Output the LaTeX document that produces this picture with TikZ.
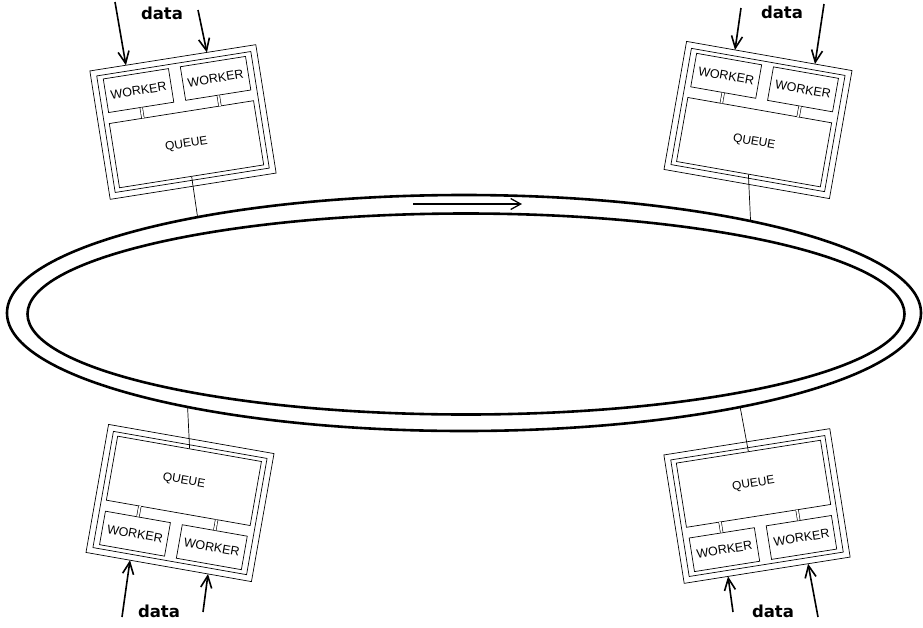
\documentclass[tikz,border=0pt]{standalone}
\usepackage{fontspec}
\setmainfont{Liberation Sans}
\newfontfamily\datafont{DejaVu Sans}
\usetikzlibrary{shapes.geometric,arrows.meta}
\begin{document}
\begin{tikzpicture}[x=1pt,y=-1pt,
 frame/.style={draw,line width=0.7pt,minimum width=168pt,minimum height=130pt,inner sep=0pt,transform shape},
 innerframe/.style={draw,line width=0.7pt,minimum width=156pt,minimum height=118pt,inner sep=0pt,transform shape},
 worker/.style={draw,line width=0.7pt,minimum width=66pt,minimum height=34pt,inner sep=0pt,font=\fontsize{12.5}{14}\selectfont,transform shape},
 queue/.style={draw,line width=0.7pt,minimum width=146pt,minimum height=65pt,inner sep=0pt,font=\fontsize{12}{14}\selectfont,transform shape},
 dlink/.style={double,double distance=2pt,line width=0.6pt},
 qlink/.style={line width=0.7pt},
 datalabel/.style={font=\datafont\bfseries\fontsize{16.5}{18}\selectfont,inner sep=0pt},
 dataarrow/.style={line width=1.6pt,-{Straight Barb[length=12pt,width=11pt]}},
 ringline/.style={draw,ellipse,line width=2.6pt,inner sep=0pt},
]
\useasboundingbox (0,0) rectangle (923,627);

% ring
\node[ringline,minimum width=914pt,minimum height=236pt] (ring) at (464,313) {};
\node[ringline,minimum width=877pt,minimum height=201pt] (ringin) at (466,314) {};
\coordinate (ra1) at (413,204);
\coordinate (ra2) at (522,204);
\draw[line width=1.3pt,-{Straight Barb[length=10pt,width=11pt]}] (ra1) -- (ra2);

% top-left box
\begin{scope}[shift={(183,122)},rotate=9]
 \node[frame] (TLo) at (0,0) {};
 \node[innerframe] (TLi) at (0,0) {};
 \node[worker] (TLw1) at (-39,-38) {WORKER};
 \node[worker] (TLw2) at (39,-38) {WORKER};
 \node[queue] (TLq) at (0,22.5) {QUEUE};
 \coordinate (TLl1) at (-39,-10);
 \coordinate (TLl2) at (39,-10);
 \coordinate (TLa1) at (-47.5,-65);
 \coordinate (TLa2) at (34.5,-65);
\end{scope}
\draw[dlink] (TLw1.south) -- (TLl1);
\draw[dlink] (TLw2.south) -- (TLl2);
\draw[qlink] (TLq.south) -- (ring.160.5);
\node[datalabel] (TLd) at (162,13) {data};
\coordinate (TLs1) at (115,2);
\coordinate (TLs2) at (198,10);
\draw[dataarrow] (TLs1) -- (TLa1);
\draw[dataarrow] (TLs2) -- (TLa2);

% top-right box
\begin{scope}[shift={(758,120)},rotate=-10]
 \node[frame] (TRo) at (0,0) {};
 \node[innerframe] (TRi) at (0,0) {};
 \node[worker] (TRw1) at (-39,-38) {WORKER};
 \node[worker] (TRw2) at (39,-38) {WORKER};
 \node[queue] (TRq) at (0,22.5) {QUEUE};
 \coordinate (TRl1) at (-39,-10);
 \coordinate (TRl2) at (39,-10);
 \coordinate (TRa1) at (-34.8,-65);
 \coordinate (TRa2) at (46.4,-65);
\end{scope}
\draw[dlink] (TRw1.south) -- (TRl1);
\draw[dlink] (TRw2.south) -- (TRl2);
\draw[qlink] (TRq.south) -- (ring.18.5);
\node[datalabel] (TRd) at (782,12) {data};
\coordinate (TRs1) at (741,8);
\coordinate (TRs2) at (824,4);
\draw[dataarrow] (TRs1) -- (TRa1);
\draw[dataarrow] (TRs2) -- (TRa2);

% bottom-left box
\begin{scope}[shift={(180,503)},rotate=-10]
 \node[frame] (BLo) at (0,0) {};
 \node[innerframe] (BLi) at (0,0) {};
 \node[queue] (BLq) at (0,-22.5) {QUEUE};
 \node[worker] (BLw1) at (-39,38) {WORKER};
 \node[worker] (BLw2) at (39,38) {WORKER};
 \coordinate (BLl1) at (-39,10);
 \coordinate (BLl2) at (39,10);
 \coordinate (BLa1) at (-39.3,65);
 \coordinate (BLa2) at (39.9,65);
\end{scope}
\draw[dlink] (BLw1.north) -- (BLl1);
\draw[dlink] (BLw2.north) -- (BLl2);
\draw[qlink] (BLq.north) -- (ring.199.3);
\node[datalabel] (BLd) at (159,611) {data};
\coordinate (BLs1) at (122,617);
\coordinate (BLs2) at (203,612);
\draw[dataarrow] (BLs1) -- (BLa1);
\draw[dataarrow] (BLs2) -- (BLa2);

% bottom-right box
\begin{scope}[shift={(757,506)},rotate=9]
 \node[frame] (BRo) at (0,0) {};
 \node[innerframe] (BRi) at (0,0) {};
 \node[queue] (BRq) at (0,-22.5) {QUEUE};
 \node[worker] (BRw1) at (-39,38) {WORKER};
 \node[worker] (BRw2) at (39,38) {WORKER};
 \coordinate (BRl1) at (-39,10);
 \coordinate (BRl2) at (39,10);
 \coordinate (BRa1) at (-39.6,65);
 \coordinate (BRa2) at (41.4,65);
\end{scope}
\draw[dlink] (BRw1.north) -- (BRl1);
\draw[dlink] (BRw2.north) -- (BRl2);
\draw[qlink] (BRq.north) -- (ring.341.5);
\node[datalabel] (BRd) at (773,611) {data};
\coordinate (BRs1) at (733,612);
\coordinate (BRs2) at (818,617);
\draw[dataarrow] (BRs1) -- (BRa1);
\draw[dataarrow] (BRs2) -- (BRa2);
\end{tikzpicture}
\end{document}
